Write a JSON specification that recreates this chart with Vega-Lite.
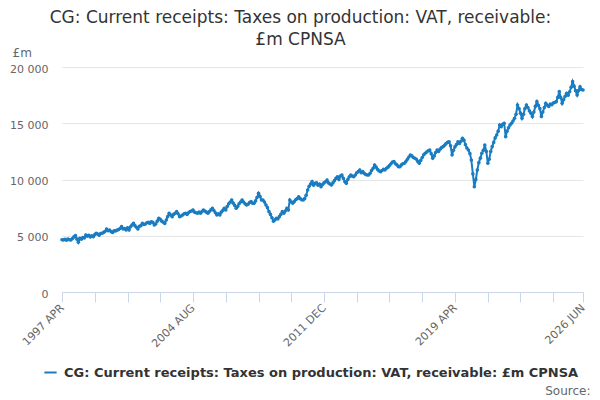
{
  "$schema": "https://vega.github.io/schema/vega-lite/v6.json",
  "width": 521,
  "height": 225,
  "autosize": {"type": "none"},
  "padding": {"left": 62, "top": 67, "right": 17, "bottom": 108},
  "background": "white",
  "config": {"view": {"stroke": null}, "font": "DejaVu Sans"},
  "title": {
    "text": ["CG: Current receipts: Taxes on production: VAT, receivable:", "£m CPNSA"],
    "fontSize": 17,
    "fontWeight": "normal",
    "color": "#333333",
    "anchor": "middle",
    "dx": -22,
    "offset": -3,
    "lineHeight": 22
  },
  "data": {
    "values": [
      {"m": "1997-04", "v": 4650}, {"m": "1997-05", "v": 4620}, {"m": "1997-06", "v": 4680}, {"m": "1997-07", "v": 4600}, {"m": "1997-08", "v": 4700}, {"m": "1997-09", "v": 4650}, {"m": "1997-10", "v": 4620}, {"m": "1997-11", "v": 4750}, {"m": "1997-12", "v": 4900},
      {"m": "1998-01", "v": 5010}, {"m": "1998-02", "v": 4700}, {"m": "1998-03", "v": 4420}, {"m": "1998-04", "v": 4780}, {"m": "1998-05", "v": 4700}, {"m": "1998-06", "v": 4850}, {"m": "1998-07", "v": 4800}, {"m": "1998-08", "v": 5070}, {"m": "1998-09", "v": 4950}, {"m": "1998-10", "v": 5050}, {"m": "1998-11", "v": 4900}, {"m": "1998-12", "v": 5000},
      {"m": "1999-01", "v": 4920}, {"m": "1999-02", "v": 5100}, {"m": "1999-03", "v": 5220}, {"m": "1999-04", "v": 5150}, {"m": "1999-05", "v": 5050}, {"m": "1999-06", "v": 5200}, {"m": "1999-07", "v": 5220}, {"m": "1999-08", "v": 5300}, {"m": "1999-09", "v": 5400}, {"m": "1999-10", "v": 5600}, {"m": "1999-11", "v": 5450}, {"m": "1999-12", "v": 5500},
      {"m": "2000-01", "v": 5360}, {"m": "2000-02", "v": 5300}, {"m": "2000-03", "v": 5450}, {"m": "2000-04", "v": 5420}, {"m": "2000-05", "v": 5500}, {"m": "2000-06", "v": 5550}, {"m": "2000-07", "v": 5650}, {"m": "2000-08", "v": 5810}, {"m": "2000-09", "v": 5600}, {"m": "2000-10", "v": 5650}, {"m": "2000-11", "v": 5510}, {"m": "2000-12", "v": 5700},
      {"m": "2001-01", "v": 5510}, {"m": "2001-02", "v": 5800}, {"m": "2001-03", "v": 5950}, {"m": "2001-04", "v": 6100}, {"m": "2001-05", "v": 5900}, {"m": "2001-06", "v": 5750}, {"m": "2001-07", "v": 5600}, {"m": "2001-08", "v": 5850}, {"m": "2001-09", "v": 5900}, {"m": "2001-10", "v": 6100}, {"m": "2001-11", "v": 6000}, {"m": "2001-12", "v": 6050},
      {"m": "2002-01", "v": 6150}, {"m": "2002-02", "v": 6190}, {"m": "2002-03", "v": 6100}, {"m": "2002-04", "v": 6250}, {"m": "2002-05", "v": 6200}, {"m": "2002-06", "v": 5960}, {"m": "2002-07", "v": 6050}, {"m": "2002-08", "v": 6300}, {"m": "2002-09", "v": 6550}, {"m": "2002-10", "v": 6460}, {"m": "2002-11", "v": 6300}, {"m": "2002-12", "v": 6200},
      {"m": "2003-01", "v": 6100}, {"m": "2003-02", "v": 6400}, {"m": "2003-03", "v": 6700}, {"m": "2003-04", "v": 7000}, {"m": "2003-05", "v": 6850}, {"m": "2003-06", "v": 6700}, {"m": "2003-07", "v": 6900}, {"m": "2003-08", "v": 7000}, {"m": "2003-09", "v": 7140}, {"m": "2003-10", "v": 6950}, {"m": "2003-11", "v": 6700}, {"m": "2003-12", "v": 6750},
      {"m": "2004-01", "v": 6850}, {"m": "2004-02", "v": 6950}, {"m": "2004-03", "v": 7000}, {"m": "2004-04", "v": 6900}, {"m": "2004-05", "v": 7050}, {"m": "2004-06", "v": 7150}, {"m": "2004-07", "v": 7200}, {"m": "2004-08", "v": 7290}, {"m": "2004-09", "v": 7100}, {"m": "2004-10", "v": 7050}, {"m": "2004-11", "v": 7000}, {"m": "2004-12", "v": 7100},
      {"m": "2005-01", "v": 7000}, {"m": "2005-02", "v": 7150}, {"m": "2005-03", "v": 7290}, {"m": "2005-04", "v": 7200}, {"m": "2005-05", "v": 7100}, {"m": "2005-06", "v": 7000}, {"m": "2005-07", "v": 7150}, {"m": "2005-08", "v": 7300}, {"m": "2005-09", "v": 7440}, {"m": "2005-10", "v": 7250}, {"m": "2005-11", "v": 7050}, {"m": "2005-12", "v": 6850},
      {"m": "2006-01", "v": 6950}, {"m": "2006-02", "v": 6850}, {"m": "2006-03", "v": 7100}, {"m": "2006-04", "v": 7250}, {"m": "2006-05", "v": 7440}, {"m": "2006-06", "v": 7300}, {"m": "2006-07", "v": 7600}, {"m": "2006-08", "v": 7850}, {"m": "2006-09", "v": 8000}, {"m": "2006-10", "v": 8180}, {"m": "2006-11", "v": 7900}, {"m": "2006-12", "v": 7700},
      {"m": "2007-01", "v": 7440}, {"m": "2007-02", "v": 7600}, {"m": "2007-03", "v": 7850}, {"m": "2007-04", "v": 8000}, {"m": "2007-05", "v": 8180}, {"m": "2007-06", "v": 8000}, {"m": "2007-07", "v": 7850}, {"m": "2007-08", "v": 7730}, {"m": "2007-09", "v": 7800}, {"m": "2007-10", "v": 7950}, {"m": "2007-11", "v": 8030}, {"m": "2007-12", "v": 7900},
      {"m": "2008-01", "v": 7880}, {"m": "2008-02", "v": 8100}, {"m": "2008-03", "v": 8400}, {"m": "2008-04", "v": 8770}, {"m": "2008-05", "v": 8500}, {"m": "2008-06", "v": 8180}, {"m": "2008-07", "v": 8180}, {"m": "2008-08", "v": 8000}, {"m": "2008-09", "v": 7730}, {"m": "2008-10", "v": 7500}, {"m": "2008-11", "v": 7140}, {"m": "2008-12", "v": 6900},
      {"m": "2009-01", "v": 6600}, {"m": "2009-02", "v": 6300}, {"m": "2009-03", "v": 6400}, {"m": "2009-04", "v": 6550}, {"m": "2009-05", "v": 6500}, {"m": "2009-06", "v": 6700}, {"m": "2009-07", "v": 6900}, {"m": "2009-08", "v": 7140}, {"m": "2009-09", "v": 7000}, {"m": "2009-10", "v": 7200}, {"m": "2009-11", "v": 7440}, {"m": "2009-12", "v": 7300},
      {"m": "2010-01", "v": 8180}, {"m": "2010-02", "v": 8000}, {"m": "2010-03", "v": 7900}, {"m": "2010-04", "v": 8030}, {"m": "2010-05", "v": 8200}, {"m": "2010-06", "v": 8300}, {"m": "2010-07", "v": 8470}, {"m": "2010-08", "v": 8300}, {"m": "2010-09", "v": 8200}, {"m": "2010-10", "v": 8180}, {"m": "2010-11", "v": 8300}, {"m": "2010-12", "v": 8600},
      {"m": "2011-01", "v": 9070}, {"m": "2011-02", "v": 9400}, {"m": "2011-03", "v": 9600}, {"m": "2011-04", "v": 9810}, {"m": "2011-05", "v": 9500}, {"m": "2011-06", "v": 9660}, {"m": "2011-07", "v": 9700}, {"m": "2011-08", "v": 9500}, {"m": "2011-09", "v": 9600}, {"m": "2011-10", "v": 9360}, {"m": "2011-11", "v": 9550}, {"m": "2011-12", "v": 9700},
      {"m": "2012-01", "v": 9800}, {"m": "2012-02", "v": 9960}, {"m": "2012-03", "v": 9700}, {"m": "2012-04", "v": 9600}, {"m": "2012-05", "v": 9510}, {"m": "2012-06", "v": 9700}, {"m": "2012-07", "v": 9900}, {"m": "2012-08", "v": 10100}, {"m": "2012-09", "v": 10250}, {"m": "2012-10", "v": 10000}, {"m": "2012-11", "v": 10300}, {"m": "2012-12", "v": 10400},
      {"m": "2013-01", "v": 10100}, {"m": "2013-02", "v": 9800}, {"m": "2013-03", "v": 9660}, {"m": "2013-04", "v": 10000}, {"m": "2013-05", "v": 10250}, {"m": "2013-06", "v": 10400}, {"m": "2013-07", "v": 10300}, {"m": "2013-08", "v": 10250}, {"m": "2013-09", "v": 10400}, {"m": "2013-10", "v": 10600}, {"m": "2013-11", "v": 10700}, {"m": "2013-12", "v": 10850},
      {"m": "2014-01", "v": 10600}, {"m": "2014-02", "v": 10700}, {"m": "2014-03", "v": 10550}, {"m": "2014-04", "v": 10450}, {"m": "2014-05", "v": 10400}, {"m": "2014-06", "v": 10400}, {"m": "2014-07", "v": 10550}, {"m": "2014-08", "v": 10800}, {"m": "2014-09", "v": 11000}, {"m": "2014-10", "v": 11290}, {"m": "2014-11", "v": 11100}, {"m": "2014-12", "v": 10900},
      {"m": "2015-01", "v": 10750}, {"m": "2015-02", "v": 10700}, {"m": "2015-03", "v": 10800}, {"m": "2015-04", "v": 10900}, {"m": "2015-05", "v": 10850}, {"m": "2015-06", "v": 11000}, {"m": "2015-07", "v": 11100}, {"m": "2015-08", "v": 11250}, {"m": "2015-09", "v": 11400}, {"m": "2015-10", "v": 11550}, {"m": "2015-11", "v": 11590}, {"m": "2015-12", "v": 11400},
      {"m": "2016-01", "v": 11300}, {"m": "2016-02", "v": 11140}, {"m": "2016-03", "v": 11140}, {"m": "2016-04", "v": 11300}, {"m": "2016-05", "v": 11400}, {"m": "2016-06", "v": 11440}, {"m": "2016-07", "v": 11600}, {"m": "2016-08", "v": 11800}, {"m": "2016-09", "v": 12000}, {"m": "2016-10", "v": 12180}, {"m": "2016-11", "v": 12100}, {"m": "2016-12", "v": 11950},
      {"m": "2017-01", "v": 11890}, {"m": "2017-02", "v": 11800}, {"m": "2017-03", "v": 11600}, {"m": "2017-04", "v": 11440}, {"m": "2017-05", "v": 11700}, {"m": "2017-06", "v": 11950}, {"m": "2017-07", "v": 12200}, {"m": "2017-08", "v": 12330}, {"m": "2017-09", "v": 12450}, {"m": "2017-10", "v": 12550}, {"m": "2017-11", "v": 12620}, {"m": "2017-12", "v": 12300},
      {"m": "2018-01", "v": 11890}, {"m": "2018-02", "v": 12100}, {"m": "2018-03", "v": 12400}, {"m": "2018-04", "v": 12620}, {"m": "2018-05", "v": 12500}, {"m": "2018-06", "v": 12700}, {"m": "2018-07", "v": 12850}, {"m": "2018-08", "v": 12920}, {"m": "2018-09", "v": 13050}, {"m": "2018-10", "v": 13200}, {"m": "2018-11", "v": 13300}, {"m": "2018-12", "v": 13360},
      {"m": "2019-01", "v": 13000}, {"m": "2019-02", "v": 12180}, {"m": "2019-03", "v": 12600}, {"m": "2019-04", "v": 12900}, {"m": "2019-05", "v": 13100}, {"m": "2019-06", "v": 13360}, {"m": "2019-07", "v": 13200}, {"m": "2019-08", "v": 13400}, {"m": "2019-09", "v": 13660}, {"m": "2019-10", "v": 13500}, {"m": "2019-11", "v": 13100}, {"m": "2019-12", "v": 12800},
      {"m": "2020-01", "v": 12620}, {"m": "2020-02", "v": 12300}, {"m": "2020-03", "v": 11730}, {"m": "2020-04", "v": 10500}, {"m": "2020-05", "v": 9360}, {"m": "2020-06", "v": 10000}, {"m": "2020-07", "v": 10850}, {"m": "2020-08", "v": 11500}, {"m": "2020-09", "v": 11900}, {"m": "2020-10", "v": 12330}, {"m": "2020-11", "v": 12600}, {"m": "2020-12", "v": 13070},
      {"m": "2021-01", "v": 12500}, {"m": "2021-02", "v": 11440}, {"m": "2021-03", "v": 11800}, {"m": "2021-04", "v": 12500}, {"m": "2021-05", "v": 12920}, {"m": "2021-06", "v": 13300}, {"m": "2021-07", "v": 13700}, {"m": "2021-08", "v": 13960}, {"m": "2021-09", "v": 14300}, {"m": "2021-10", "v": 14850}, {"m": "2021-11", "v": 14700}, {"m": "2021-12", "v": 14900},
      {"m": "2022-01", "v": 15000}, {"m": "2022-02", "v": 13810}, {"m": "2022-03", "v": 14300}, {"m": "2022-04", "v": 14600}, {"m": "2022-05", "v": 14850}, {"m": "2022-06", "v": 15000}, {"m": "2022-07", "v": 15200}, {"m": "2022-08", "v": 15440}, {"m": "2022-09", "v": 15800}, {"m": "2022-10", "v": 16620}, {"m": "2022-11", "v": 16300}, {"m": "2022-12", "v": 15900},
      {"m": "2023-01", "v": 15440}, {"m": "2023-02", "v": 15800}, {"m": "2023-03", "v": 16300}, {"m": "2023-04", "v": 16620}, {"m": "2023-05", "v": 16400}, {"m": "2023-06", "v": 16100}, {"m": "2023-07", "v": 15900}, {"m": "2023-08", "v": 15590}, {"m": "2023-09", "v": 16000}, {"m": "2023-10", "v": 16500}, {"m": "2023-11", "v": 16920}, {"m": "2023-12", "v": 16600},
      {"m": "2024-01", "v": 16300}, {"m": "2024-02", "v": 15590}, {"m": "2024-03", "v": 16000}, {"m": "2024-04", "v": 16400}, {"m": "2024-05", "v": 16770}, {"m": "2024-06", "v": 16600}, {"m": "2024-07", "v": 16500}, {"m": "2024-08", "v": 16700}, {"m": "2024-09", "v": 16650}, {"m": "2024-10", "v": 16800}, {"m": "2024-11", "v": 16850}, {"m": "2024-12", "v": 16920},
      {"m": "2025-01", "v": 17300}, {"m": "2025-02", "v": 17810}, {"m": "2025-03", "v": 17300}, {"m": "2025-04", "v": 16770}, {"m": "2025-05", "v": 17100}, {"m": "2025-06", "v": 17400}, {"m": "2025-07", "v": 17660}, {"m": "2025-08", "v": 17500}, {"m": "2025-09", "v": 17800}, {"m": "2025-10", "v": 18200}, {"m": "2025-11", "v": 18700}, {"m": "2025-12", "v": 18300},
      {"m": "2026-01", "v": 17900}, {"m": "2026-02", "v": 17510}, {"m": "2026-03", "v": 17900}, {"m": "2026-04", "v": 18250}, {"m": "2026-05", "v": 18000}, {"m": "2026-06", "v": 17960}
    ]
  },
  "mark": {
    "type": "line",
    "strokeWidth": 2,
    "point": {"filled": true, "size": 13}
  },
  "encoding": {
    "x": {
      "field": "m",
      "type": "temporal",
      "scale": {"type": "utc", "nice": false},
      "axis": {
        "title": "Source:",
        "titleFontSize": 12,
        "titleFontWeight": "normal",
        "titleColor": "#666666",
        "titleAnchor": "end",
        "titleAlign": "right",
        "titleBaseline": "middle",
        "titleX": 528,
        "titleY": 98,
        "values": [
          {"year": 1997, "month": 4, "date": 1, "utc": true},
          {"year": 1999, "month": 2, "date": 1, "utc": true},
          {"year": 2000, "month": 12, "date": 1, "utc": true},
          {"year": 2002, "month": 10, "date": 1, "utc": true},
          {"year": 2004, "month": 8, "date": 1, "utc": true},
          {"year": 2006, "month": 6, "date": 1, "utc": true},
          {"year": 2008, "month": 4, "date": 1, "utc": true},
          {"year": 2010, "month": 2, "date": 1, "utc": true},
          {"year": 2011, "month": 12, "date": 1, "utc": true},
          {"year": 2013, "month": 10, "date": 1, "utc": true},
          {"year": 2015, "month": 8, "date": 1, "utc": true},
          {"year": 2017, "month": 6, "date": 1, "utc": true},
          {"year": 2019, "month": 4, "date": 1, "utc": true},
          {"year": 2021, "month": 2, "date": 1, "utc": true},
          {"year": 2022, "month": 12, "date": 1, "utc": true},
          {"year": 2024, "month": 10, "date": 1, "utc": true},
          {"year": 2026, "month": 6, "date": 1, "utc": true}
        ],
        "labelExpr": "(utcyear(datum.value) == 1997 || utcyear(datum.value) == 2004 || utcyear(datum.value) == 2011 || utcyear(datum.value) == 2019 || utcyear(datum.value) == 2026) ? upper(utcFormat(datum.value, '%Y %b')) : ''",
        "labelAngle": -45,
        "labelAlign": "right",
        "labelBaseline": "middle",
        "labelFontSize": 11,
        "labelColor": "#666666",
        "labelOverlap": false,
        "labelFlush": false,
        "labelPadding": 4,
        "grid": false,
        "domainColor": "#ccd6eb",
        "tickColor": "#ccd6eb",
        "tickSize": 10
      }
    },
    "y": {
      "field": "v",
      "type": "quantitative",
      "scale": {"domain": [0, 20000], "nice": false},
      "axis": {
        "title": "£m",
        "titleAngle": 0,
        "titleAlign": "left",
        "titleBaseline": "middle",
        "titleX": -50,
        "titleY": -15,
        "titleFontSize": 12,
        "titleFontWeight": "normal",
        "titleColor": "#666666",
        "values": [0, 5000, 10000, 15000, 20000],
        "labelExpr": "replace(format(datum.value, ','), ',', ' ')",
        "labelFontSize": 11,
        "labelColor": "#666666",
        "labelPadding": 14,
        "labelOffset": 2,
        "domain": false,
        "ticks": false,
        "gridColor": "#e6e6e6"
      }
    },
    "color": {
      "datum": "CG: Current receipts: Taxes on production: VAT, receivable: £m CPNSA",
      "type": "nominal",
      "scale": {"range": ["#1a7cc1"]},
      "legend": {
        "title": null,
        "orient": "none",
        "legendX": -19,
        "legendY": 298,
        "symbolType": "stroke",
        "symbolStrokeWidth": 2,
        "symbolSize": 150,
        "labelFontSize": 13,
        "labelFontWeight": "bold",
        "labelColor": "#333333",
        "labelLimit": 600,
        "labelOffset": 6
      }
    }
  }
}
